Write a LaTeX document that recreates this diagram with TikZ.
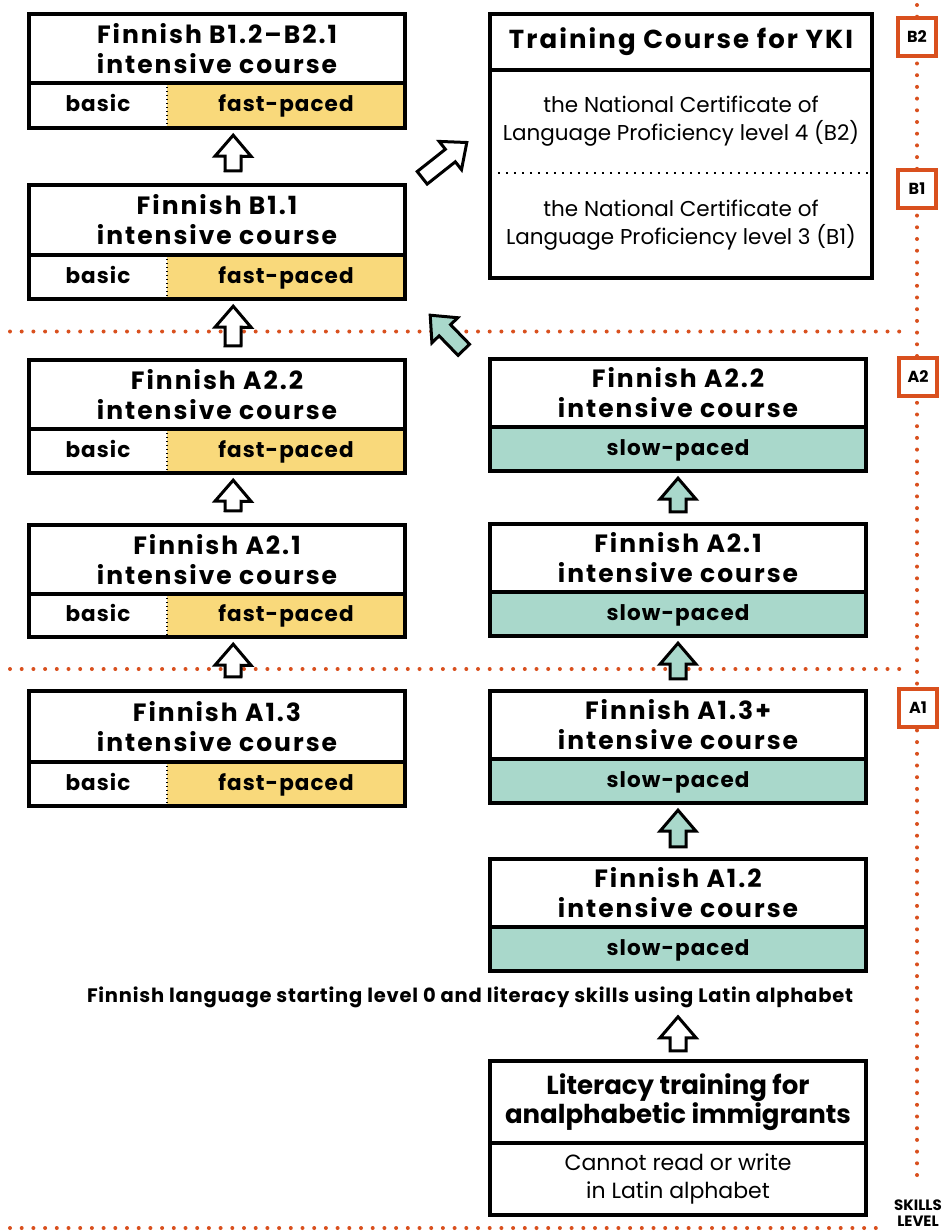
\documentclass[tikz,border=0pt]{standalone}
\usepackage{fontspec}
\setmainfont{Poppins}
\newfontfamily\hdfont[LetterSpace=8]{Poppins}
\newfontfamily\mdfont[LetterSpace=5]{Poppins}
\newfontfamily\plfont{Poppins}
\newfontfamily\cdfont[LetterSpace=4]{Poppins}
\usetikzlibrary{calc}
\definecolor{fastc}{HTML}{F9D97B}
\definecolor{slowc}{HTML}{A9D8CB}
\definecolor{lvl}{HTML}{D9501E}
\tikzset{
  hdr/.style={inner sep=0pt, align=center, minimum width=376pt, font=\hdfont\bfseries\fontsize{25}{30}\selectfont},
  part/.style={inner sep=0pt, text height=16pt, text depth=4pt, font=\mdfont\bfseries\fontsize{21.5}{26}\selectfont},
  cert/.style={inner sep=0pt, align=center, minimum width=382pt, font=\plfont\fontsize{21.5}{28}\selectfont},
  boxline/.style={line width=4pt},
  divdot/.style={line width=2pt, dash pattern=on 1.5pt off 2.5pt},
  certdot/.style={line width=2pt, dash pattern=on 2pt off 6pt},
  lvldot/.style={draw=lvl, line width=4pt, line cap=round, dash pattern=on 0pt off 11.7pt},
  lvlbox/.style={draw=lvl, line width=4pt, fill=white, minimum width=38pt, minimum height=38pt, inner sep=0pt, font=\bfseries\fontsize{16}{16}\selectfont},
  barrow/.style={draw=black, line width=3pt, line join=miter, miter limit=10},
}
% block arrow from tail #1 to tip #2, filled with #3
\newcommand{\blkarrow}[3]{%
  \coordinate (nk) at ($(#2)!21pt!(#1)$);
  \draw[barrow, fill=#3] ($(#1)!8pt!90:(#2)$) -- ($(nk)!8pt!90:(#2)$) -- ($(nk)!18pt!90:(#2)$) -- (#2)
     -- ($(nk)!18pt!-90:(#2)$) -- ($(nk)!8pt!-90:(#2)$) -- ($(#1)!8pt!-90:(#2)$) -- cycle;}
% left course box: name, top, divider, bottom, level text
\newcommand{\leftbox}[5]{%
  \node[hdr, minimum height={#3-#2-2}] (#1t) at (217,{(#2+2+#3)/2}) {Finnish #5\\intensive course};
  \node[part, minimum width=138pt, minimum height={#4-2-#3}] (#1b) at (98,{(#3+#4-2)/2}) {basic};
  \node[part, fill=fastc, minimum width=238pt, minimum height={#4-2-#3}] (#1f) at (286,{(#3+#4-2)/2}) {fast-paced};
  \draw[boxline] (#1t.north west) rectangle (#1f.south east);
  \draw[boxline] (#1t.south west) -- (#1t.south east);
  \draw[divdot] (#1b.north east) -- (#1b.south east);}
% right course box
\newcommand{\rightbox}[5]{%
  \node[hdr, minimum height={#3-#2-2}] (#1t) at (678,{(#2+2+#3)/2}) {Finnish #5\\intensive course};
  \node[part, fill=slowc, minimum width=376pt, minimum height={#4-2-#3}] (#1s) at (678,{(#3+#4-2)/2}) {slow-paced};
  \draw[boxline] (#1t.north west) rectangle (#1s.south east);
  \draw[boxline] (#1t.south west) -- (#1t.south east);}
\begin{document}
\begin{tikzpicture}[x=1pt,y=-1pt]
\useasboundingbox[fill=white] (0,0) rectangle (948,1231);
% skill level guide lines
\draw[lvldot] (10,331.5) -- (902,331.5);
\draw[lvldot] (10,669) -- (902,669);
\draw[lvldot] (10,1228) -- (880,1228);
\draw[lvldot] (917,5) -- (917,1180);
\node[lvlbox] (lB2) at (917,37) {B2};
\node[lvlbox] (lB1) at (917,189) {B1};
\node[lvlbox] (lA2) at (918,377) {A2};
\node[lvlbox] (lA1) at (918,708) {A1};
\node[align=center, inner sep=0pt, font=\bfseries\fontsize{15}{16.5}\selectfont] (skl) at (918,1213) {SKILLS\\LEVEL};
% left column
\leftbox{L1}{12}{83}{130}{B1.2–B2.1}
\leftbox{L2}{183}{255}{301}{B1.1}
\leftbox{L3}{358}{429}{475}{A2.2}
\leftbox{L4}{523}{594}{639}{A2.1}
\leftbox{L5}{689}{762}{808}{A1.3}
% right column
\rightbox{R1}{357}{427}{473}{A2.2}
\rightbox{R2}{522}{592}{638}{A2.1}
\rightbox{R3}{689}{759}{805}{A1.3+}
\rightbox{R4}{857}{927}{973}{A1.2}
% YKI box
\node[hdr, minimum width=382pt, minimum height=56pt, font=\hdfont\bfseries\fontsize{26}{30}\selectfont] (Y1) at (681,42) {Training Course for YKI};
\node[cert, minimum height=103pt] (Y2) at (681,121.5) {the National Certificate of\\Language Proficiency level 4 (B2)};
\node[cert, minimum height=105pt] (Y3) at (681,225.5) {the National Certificate of\\Language Proficiency level 3 (B1)};
\draw[boxline] (Y1.north west) rectangle (Y3.south east);
\draw[boxline] (Y1.south west) -- (Y1.south east);
\draw[certdot] (Y2.south west) -- (Y2.south east);
% literacy box
\node[inner sep=0pt, align=center, minimum width=376pt, minimum height=82pt, font=\bfseries\fontsize{26}{29}\selectfont] (Lt) at (678,1102) {Literacy training for\\analphabetic immigrants};
\node[inner sep=0pt, align=center, minimum width=376pt, minimum height=72pt, font=\plfont\fontsize{22}{28}\selectfont] (Ls) at (678,1179) {Cannot read or write\\in Latin alphabet};
\draw[boxline] (Lt.north west) rectangle (Ls.south east);
\draw[boxline] (Lt.south west) -- (Lt.south east);
\node[inner sep=0pt, font=\cdfont\bfseries\fontsize{19.5}{20}\selectfont] (start) at (470,997) {Finnish language starting level 0 and literacy skills using Latin alphabet};
% vertical arrows, left column
\foreach \lo/\up in {L2/L1, L3/L2, L4/L3, L5/L4}{
  \coordinate (at) at ($(\lo t.north)+(16,-14)$);
  \coordinate (ap) at ($(\up b.south east)+(66,7)$);
  \blkarrow{at}{ap}{white}
}
% vertical arrows, right column
\foreach \lo/\up in {R2/R1, R3/R2, R4/R3}{
  \coordinate (at) at ($(\lo t.north)+(0,-12)$);
  \coordinate (ap) at ($(\up s.south)+(0,7)$);
  \blkarrow{at}{ap}{slowc}
}
\coordinate (lit-t) at ($(Lt.north)+(0,-10)$);
\coordinate (lit-p) at ($(Lt.north)+(0,-44)$);
\blkarrow{lit-t}{lit-p}{white}
% diagonal arrows
\coordinate (w-t) at ($(L2t.north east)+(17,-7)$);
\coordinate (w-p) at ($(Y2.west)+(-23,21)$);
\blkarrow{w-t}{w-p}{white}
\coordinate (g-t) at ($(R1t.north west)+(-26,-9)$);
\coordinate (g-p) at ($(L2f.south east)+(25,16)$);
\blkarrow{g-t}{g-p}{slowc}
\end{tikzpicture}
\end{document}
